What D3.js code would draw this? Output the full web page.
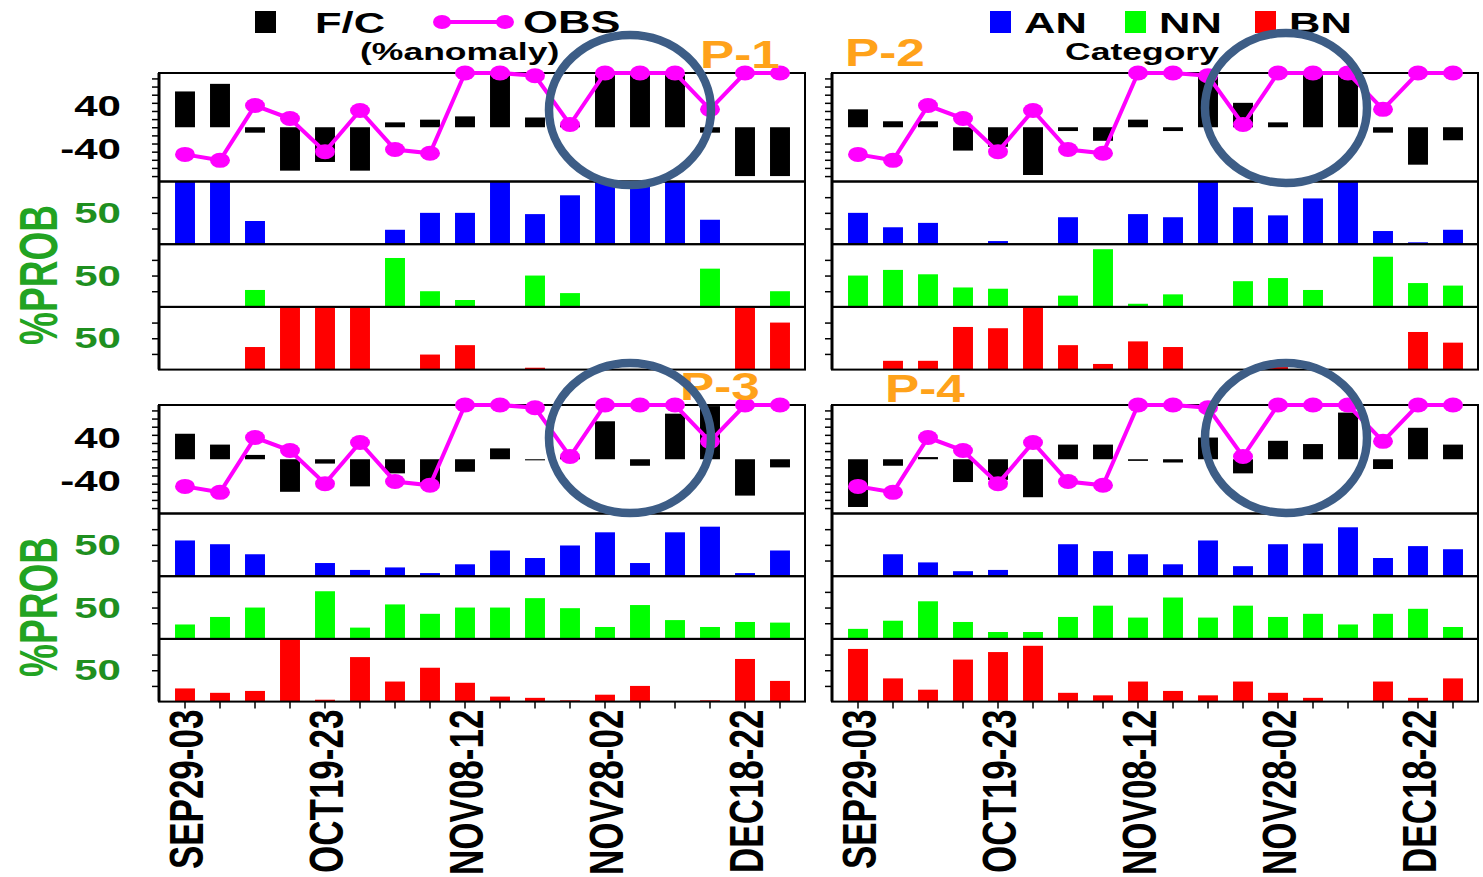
<!DOCTYPE html>
<html>
<head>
<meta charset="utf-8">
<script src="https://cdn.jsdelivr.net/npm/d3@7"></script>
<style>
  body { margin: 0; background: #fff; }
  text { font-family: "Liberation Sans", Arial, sans-serif; font-weight: bold; }
</style>
</head>
<body>
<div id="chart"></div>
<script>

// pentads on the x axis
const PENTADS = ["SEP29-03", "OCT04-08", "OCT09-13", "OCT14-18", "OCT19-23", "OCT24-28",
                 "OCT29-02", "NOV03-07", "NOV08-12", "NOV13-17", "NOV18-22", "NOV23-27",
                 "NOV28-02", "DEC03-07", "DEC08-12", "DEC13-17", "DEC18-22", "DEC23-27"];
const TICK_LABELS = ["SEP29-03", "OCT19-23", "NOV08-12", "NOV28-02", "DEC18-22"];

// observed anomaly (%), same in every panel
const OBS = [-50, -61, 40, 16, -45, 31, -41, -48, 100, 100, 95, 5, 100, 100, 100, 33, 100, 100];

// forecast anomaly (%) for each lead
const FC_P1 = [66, 80, -10, -80, -64, -80, 9, 14, 20, 96, 18, 5, 96, 96, 96, -10, -90, -90];
const FC_P2 = [33, 11, 11, -43, -36, -88, -7, -25, 14, -7, 93, 45, 9, 96, 96, -10, -69, -24];
const FC_P3 = [47, 27, 8, -60, -8, -50, -26, -47, -23, 20, -2, 5, 70, -12, 84, 98, -67, -15];
const FC_P4 = [-88, -12, 4, -42, -38, -70, 27, 27, -3, -6, 40, -26, 34, 28, 86, -18, 58, 27];

// category probabilities (%)
const AN_P1 = [100, 100, 37, 0, 0, 0, 23, 50, 50, 100, 48, 78, 100, 100, 100, 39, 0, 0];
const NN_P1 = [0, 0, 27, 0, 0, 0, 78, 25, 11, 0, 50, 22, 0, 0, 0, 61, 0, 25];
const BN_P1 = [0, 0, 36, 100, 100, 100, 0, 24, 39, 0, 3, 0, 0, 0, 0, 0, 100, 75];

const AN_P2 = [50, 27, 34, 0, 5, 0, 43, 0, 48, 43, 100, 59, 46, 73, 100, 21, 3, 23];
const NN_P2 = [50, 59, 52, 31, 29, 0, 18, 92, 5, 20, 0, 41, 46, 27, 0, 80, 38, 34];
const BN_P2 = [0, 14, 14, 68, 66, 100, 39, 9, 45, 36, 0, 0, 8, 0, 0, 0, 60, 43];

const AN_P3 = [57, 51, 35, 0, 21, 10, 14, 5, 19, 41, 29, 49, 70, 21, 70, 79, 5, 41];
const NN_P3 = [23, 35, 50, 0, 76, 18, 55, 40, 50, 50, 65, 49, 19, 54, 30, 19, 27, 26];
const BN_P3 = [21, 14, 17, 100, 3, 71, 32, 54, 30, 8, 6, 2, 11, 25, 0, 2, 68, 33];

const AN_P4 = [0, 35, 22, 8, 10, 0, 51, 40, 35, 19, 57, 16, 51, 52, 78, 29, 48, 43];
const NN_P4 = [16, 29, 60, 27, 11, 11, 35, 53, 34, 66, 34, 53, 35, 40, 23, 40, 48, 19];
const BN_P4 = [84, 37, 19, 67, 79, 89, 14, 10, 32, 17, 10, 32, 14, 6, 0, 32, 6, 37];

const PANEL_NAMES = ["P-1", "P-2", "P-3", "P-4"];

// layout
const FRAME_WIDTH = 1483;
const FRAME_HEIGHT = 877;
const PANEL_W = 646;
const ANOM_H = 108.5;
const PROB_H = 62.7;
const STRETCH = 1.45;   // the reference is stretched sideways
const PROB_COLORS = ["#0000ff", "#00ff00", "#ff0000"];
const MAGENTA = "#ff00ff";
const ORANGE = "#ffa21a";
const RING = "#3d5d86";

const PANELS = [
  {left: 159, top: 73, fc: FC_P1, probs: [AN_P1, NN_P1, BN_P1], name: PANEL_NAMES[0], nx: 700, ny: 68, ring: [630, 110], ylab: true, xlab: false},
  {left: 832, top: 73, fc: FC_P2, probs: [AN_P2, NN_P2, BN_P2], name: PANEL_NAMES[1], nx: 845, ny: 66, ring: [1286, 108], ylab: false, xlab: false},
  {left: 159, top: 405, fc: FC_P3, probs: [AN_P3, NN_P3, BN_P3], name: PANEL_NAMES[2], nx: 680, ny: 400, ring: [630, 438], ylab: true, xlab: true},
  {left: 832, top: 405, fc: FC_P4, probs: [AN_P4, NN_P4, BN_P4], name: PANEL_NAMES[3], nx: 885, ny: 402, ring: [1286, 438], ylab: false, xlab: true}
];

const SVG = d3.select("#chart")
              .append("svg")
                .attr("width", FRAME_WIDTH)
                .attr("height", FRAME_HEIGHT);

const X_SCALE = d3.scaleBand()
                  .domain(PENTADS)
                  .range([8.5, 638.5])
                  .paddingInner(0.43)
                  .paddingOuter(0.215);

const Y_ANOM = d3.scaleLinear().domain([-100, 100]).range([ANOM_H, 0]);
const Y_PROB = d3.scaleLinear().domain([0, 100]).range([PROB_H, 0]);

// stretched bold text
function stretchText(g, x, y, str, size, color, anchor) {
  return g.append("text")
          .attr("transform", "translate(" + x + "," + y + ") scale(" + STRETCH + ",1)")
          .attr("text-anchor", anchor || "start")
          .attr("font-size", size)
          .attr("fill", color || "black")
          .text(str);
}

function build_panel(p) {

  const G = SVG.append("g")
               .attr("transform", "translate(" + p.left + "," + p.top + ")");

  // probability strips
  p.probs.forEach((vals, k) => {
    const S = G.append("g")
               .attr("transform", "translate(0," + (ANOM_H + k * PROB_H) + ")");

    S.selectAll(".pbar")
        .data(vals)
        .enter()
        .append("rect")
          .attr("x", (d, i) => X_SCALE(PENTADS[i]))
          .attr("y", (d) => Y_PROB(d))
          .attr("width", X_SCALE.bandwidth())
          .attr("height", (d) => PROB_H - Y_PROB(d))
          .attr("fill", PROB_COLORS[k]);

    S.append("rect")
        .attr("width", PANEL_W)
        .attr("height", PROB_H)
        .attr("fill", "none")
        .attr("stroke", "black")
        .attr("stroke-width", 2);

    // minor ticks
    S.append("g")
        .call(d3.axisLeft(Y_PROB).tickValues([25, 50, 75]).tickSize(7).tickFormat(""))
        .call(g => g.select(".domain").remove())
        .selectAll("line").attr("stroke-width", 1.5);

    if (p.ylab) {
      stretchText(S, -38, Y_PROB(50) + 10, "50", 29, "#1f8f1f", "end");
    }
  });

  // forecast bars
  G.selectAll(".fc")
      .data(p.fc)
      .enter()
      .append("rect")
        .attr("x", (d, i) => X_SCALE(PENTADS[i]))
        .attr("y", (d) => Y_ANOM(Math.max(0, d)))
        .attr("width", X_SCALE.bandwidth())
        .attr("height", (d) => Math.abs(Y_ANOM(d) - Y_ANOM(0)))
        .attr("fill", "black");

  G.append("rect")
      .attr("width", PANEL_W)
      .attr("height", ANOM_H)
      .attr("fill", "none")
      .attr("stroke", "black")
      .attr("stroke-width", 2);

  G.append("g")
      .call(d3.axisLeft(Y_ANOM).tickValues(d3.range(-90, 100, 15)).tickSize(7).tickFormat(""))
      .call(g => g.select(".domain").remove())
      .selectAll("line").attr("stroke-width", 1.5);

  if (p.ylab) {
    stretchText(G, -38, Y_ANOM(40) + 10, "40", 29, "black", "end");
    stretchText(G, -38, Y_ANOM(-40) + 10, "-40", 29, "black", "end");
  }

  // left axis line a bit heavier
  G.append("line")
      .attr("x1", 0).attr("x2", 0)
      .attr("y1", 0).attr("y2", ANOM_H + 3 * PROB_H)
      .attr("stroke", "black")
      .attr("stroke-width", 3);

  // bottom ticks and labels
  const bottom = ANOM_H + 3 * PROB_H;
  if (p.xlab) {
    G.append("g")
        .attr("transform", "translate(0," + bottom + ")")
        .call(d3.axisBottom(X_SCALE).tickSize(7).tickFormat(""))
        .call(g => g.select(".domain").remove())
        .selectAll("line").attr("stroke-width", 1.5);

    G.selectAll(".xlab")
        .data(TICK_LABELS)
        .enter()
        .append("text")
          .attr("transform", (d) => "translate(" + (X_SCALE(d) + X_SCALE.bandwidth() / 2) + "," + (bottom + 8) + ") scale(1.4,1) rotate(-90)")
          .attr("text-anchor", "end")
          .attr("dy", "0.36em")
          .attr("font-size", 35)
          .text((d) => d);
  }

  // observed line
  const line = d3.line()
                 .x((d, i) => X_SCALE(PENTADS[i]) + X_SCALE.bandwidth() / 2)
                 .y((d) => Y_ANOM(d));

  G.append("path")
      .datum(OBS)
      .attr("d", line)
      .attr("fill", "none")
      .attr("stroke", MAGENTA)
      .attr("stroke-width", 4);

  G.selectAll(".obs")
      .data(OBS)
      .enter()
      .append("ellipse")
        .attr("cx", (d, i) => X_SCALE(PENTADS[i]) + X_SCALE.bandwidth() / 2)
        .attr("cy", (d) => Y_ANOM(d))
        .attr("rx", 10)
        .attr("ry", 7.5)
        .attr("fill", MAGENTA);

  // panel name
  stretchText(SVG, p.nx, p.ny, p.name, 38, ORANGE).attr("transform", "translate(" + p.nx + "," + p.ny + ") scale(1.35,1)");
}

PANELS.forEach(build_panel);

// %PROB labels
[275, 607].forEach((cy) => {
  SVG.append("text")
      .attr("transform", "translate(38," + cy + ") scale(1.45,1) rotate(-90)")
      .attr("text-anchor", "middle")
      .attr("dy", "0.36em")
      .attr("font-size", 37)
      .attr("fill", "#22a322")
      .text("%PROB");
});

// legend, left
SVG.append("rect").attr("x", 255).attr("y", 11).attr("width", 21).attr("height", 22).attr("fill", "black");
stretchText(SVG, 315, 33, "F/C", 30);
SVG.append("line").attr("x1", 442).attr("x2", 505).attr("y1", 22).attr("y2", 22)
    .attr("stroke", MAGENTA).attr("stroke-width", 4);
[442, 505].forEach((x) => {
  SVG.append("ellipse").attr("cx", x).attr("cy", 22).attr("rx", 9).attr("ry", 7).attr("fill", MAGENTA);
});
stretchText(SVG, 523, 33, "OBS", 31);
stretchText(SVG, 360, 60, "(%anomaly)", 24.5);

// legend, right
const CATS = ["AN", "NN", "BN"];
const CAT_X = [990, 1125, 1255];
CATS.forEach((c, k) => {
  SVG.append("rect").attr("x", CAT_X[k]).attr("y", 11).attr("width", 21).attr("height", 22).attr("fill", PROB_COLORS[k]);
  stretchText(SVG, CAT_X[k] + 34, 33, c, 30);
});
stretchText(SVG, 1065, 60, "Category", 24.5);

// highlight rings
PANELS.forEach((p) => {
  SVG.append("ellipse")
      .attr("cx", p.ring[0])
      .attr("cy", p.ring[1])
      .attr("rx", 81)
      .attr("ry", 75)
      .attr("fill", "none")
      .attr("stroke", RING)
      .attr("stroke-width", 8.5);
});

</script>
</body>
</html>
